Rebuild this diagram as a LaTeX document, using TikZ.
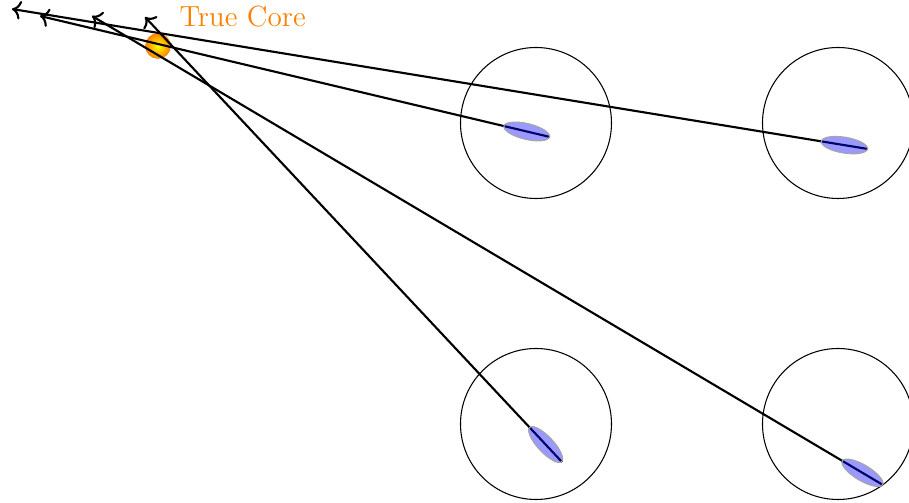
\documentclass[tikz,border=0pt]{standalone}
\usepackage{tikz}
\usetikzlibrary{shapes.geometric, arrows.meta}
\tikzset{
    camera/.style={circle, draw, minimum size=2cm, inner sep=0pt},
    shower/.style={ellipse, draw=black!35, thin, fill=blue, fill opacity=0.4, minimum width=0.62cm, minimum height=0.21cm, inner sep=0pt},
    core/.style={circle, shading=radial, inner color=yellow, outer color=orange, minimum size=0.34cm, inner sep=0pt},
    corelabel/.style={text=orange, font=\fontsize{11}{13}\selectfont, inner sep=0pt},
    ray/.style={->, thick},
}

\begin{document}
\begin{tikzpicture}[x=1cm/75.5, y=-1cm/75.5]
\useasboundingbox (0,0) rectangle (909,503);

% Cameras
\node[camera] (camTL) at (536,123) {};
\node[camera] (camTR) at (838,123) {};
\node[camera] (camBL) at (536,424) {};
\node[camera] (camBR) at (838,424) {};

% Shower core
\node[core] (core) at (158,46) {};
\node[corelabel, anchor=base west] (corelab) at (179,27) {True Core};

% Image ends and ray tips
\coordinate (endTL) at (550,137);
\coordinate (endTR) at (868,149);
\coordinate (endBL) at (562,462);
\coordinate (endBR) at (883,485);
\coordinate (tipTL) at (40,16);
\coordinate (tipTR) at (12,9);
\coordinate (tipBL) at (145,17);
\coordinate (tipBR) at (92,16);

% Major axis rays
\draw[ray] (endTL) -- (tipTL);
\draw[ray] (endTR) -- (tipTR);
\draw[ray] (endBL) -- (tipBL);
\draw[ray] (endBR) -- (tipBR);

% Shower images
\node[shower, rotate=-13.35, anchor=east] (imgTL) at (endTL) {};
\node[shower, rotate=-9.29, anchor=east] (imgTR) at (endTR) {};
\node[shower, rotate=-46.86, anchor=east] (imgBL) at (endBL) {};
\node[shower, rotate=-30.67, anchor=east] (imgBR) at (endBR) {};

\end{tikzpicture}
\end{document}
